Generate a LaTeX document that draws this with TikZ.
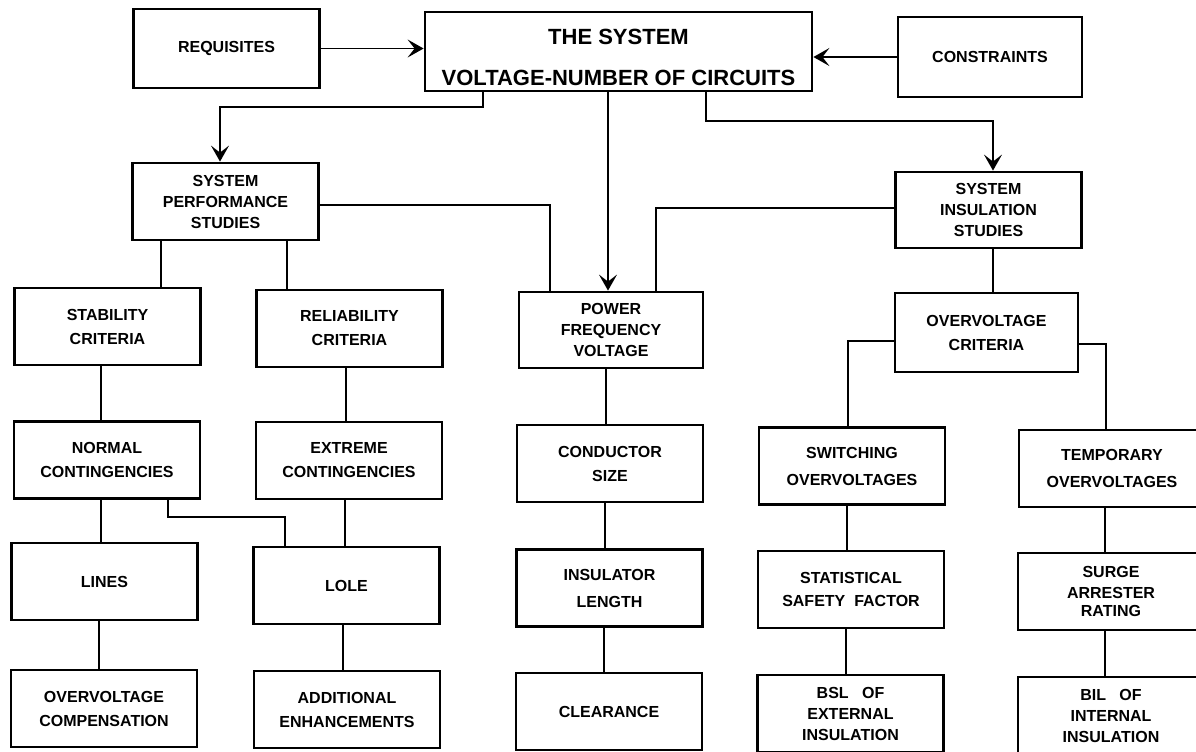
\documentclass[tikz,border=0pt]{standalone}
\usepackage{fontspec}
\setmainfont{Liberation Sans}
\usetikzlibrary{arrows.meta}

\begin{document}
\begin{tikzpicture}[x=0.5pt, y=-0.5pt, every node/.style={font=\fontsize{8}{10.5}\selectfont\bfseries}]
\tikzset{blk/.style={rectangle, draw, line width=1.4pt, minimum width=93pt, minimum height=38.5pt, inner sep=0, align=center},
         ln/.style={line width=0.9pt},
         arr/.style={-{Stealth[length=8pt, width=9pt, inset=3.5pt]}}}
\useasboundingbox (0,0) rectangle (1196,751);
\clip (0,0) rectangle (1196,751);
% --- Top row ---
\node[blk, minimum height=39.5pt] (req) at (226.5,48.5) {REQUISITES};
\node[blk, minimum width=193.5pt, minimum height=39.5pt] (main) at (618.5,51.5) {};
\node[align=center, font=\fontsize{11}{13}\selectfont\bfseries] (maintxt) at (618.5,57.5) {THE SYSTEM\\[7.5pt]VOLTAGE-NUMBER OF CIRCUITS};
\node[blk, minimum width=92pt, minimum height=40pt] (con) at (990,57) {CONSTRAINTS};
% --- Studies ---
\node[blk] (sps) at (225.5,201.5) {SYSTEM\\PERFORMANCE\\STUDIES};
\node[blk, minimum height=38pt] (sis) at (988.5,210) {SYSTEM\\INSULATION\\STUDIES};
% --- Criteria ---
\node[blk] (stab) at (107.5,326.5) {STABILITY\\[1.5pt]CRITERIA};
\node[blk] (rel) at (349.5,328.5) {RELIABILITY\\[1.5pt]CRITERIA};
\node[blk, minimum width=92pt, minimum height=38pt] (pow) at (611,330) {POWER\\FREQUENCY\\VOLTAGE};
\node[blk, minimum width=91.5pt, minimum height=39.5pt] (oc) at (986.5,332.5) {OVERVOLTAGE\\[1.5pt]CRITERIA};
% --- Fourth row ---
\node[blk] (norm) at (107,460) {NORMAL\\[1.5pt]CONTINGENCIES};
\node[blk] (ext) at (349,460.5) {EXTREME\\[1.5pt]CONTINGENCIES};
\node[blk] (cond) at (610,463.5) {CONDUCTOR\\[1.5pt]SIZE};
\node[blk] (sw) at (852,466) {SWITCHING\\[3pt]OVERVOLTAGES};
\node[blk] (temp) at (1112,468.5) {TEMPORARY\\[3pt]OVERVOLTAGES};
% --- Fifth row ---
\node[blk] (lines) at (104.5,581.5) {LINES};
\node[blk] (lole) at (346.5,585.5) {LOLE};
\node[blk] (ins) at (609.5,588) {INSULATOR\\[3pt]LENGTH};
\node[blk] (stat) at (851,589.5) {STATISTICAL\\[1pt]SAFETY\ \ FACTOR};
\node[blk] (surge) at (1111,591.5) {SURGE\\ARRESTER\\[-1.5pt]RATING};
% --- Bottom row ---
\node[blk] (ovc) at (104,708.5) {OVERVOLTAGE\\[1.5pt]COMPENSATION};
\node[blk] (add) at (347,709.5) {ADDITIONAL\\[1.5pt]ENHANCEMENTS};
\node[blk] (clr) at (609,711.5) {CLEARANCE};
\node[blk] (bsl) at (850.5,713.5) {BSL\ \ \ OF\\EXTERNAL\\INSULATION};
\node[blk] (bil) at (1111,715.5) {BIL\ \ \ OF\\INTERNAL\\INSULATION};
% --- Arrows ---
\draw[ln, arr] (req.east) -- (req.east -| main.west);
\draw[ln, arr] (con.west) -- (con.west -| main.east);
\draw[ln, arr] (main.south -| 483,0) |- (220,107) -- (sps.north -| 220,0);
\draw[ln, arr] (main.south -| 608,0) -- (pow.north -| 608,0);
\draw[ln, arr] (main.south -| 706,0) |- (993,121) -- (sis.north -| 993,0);
% --- Links ---
\draw[ln] (sps.east |- 0,205) -| (pow.north -| 550,0);
\draw[ln] (sis.west |- 0,208) -| (pow.north -| 656,0);
\draw[ln] (oc.west |- 0,341) -| (sw.north -| 848,0);
\draw[ln] (oc.east |- 0,344) -| (temp.north -| 1106,0);
\draw[ln] (norm.south -| 168,0) |- (285,517) -- (lole.north -| 285,0);
\foreach \a/\b/\x in {sps/stab/161, sps/rel/287, stab/norm/101, rel/ext/346, norm/lines/101, ext/lole/345,
                      lines/ovc/99, lole/add/343, sis/oc/993, pow/cond/606, cond/ins/605, ins/clr/604,
                      sw/stat/847, stat/bsl/846, temp/surge/1105, surge/bil/1105}
  \draw[ln] (\a.south -| \x,0) -- (\b.north -| \x,0);
\end{tikzpicture}
\end{document}
